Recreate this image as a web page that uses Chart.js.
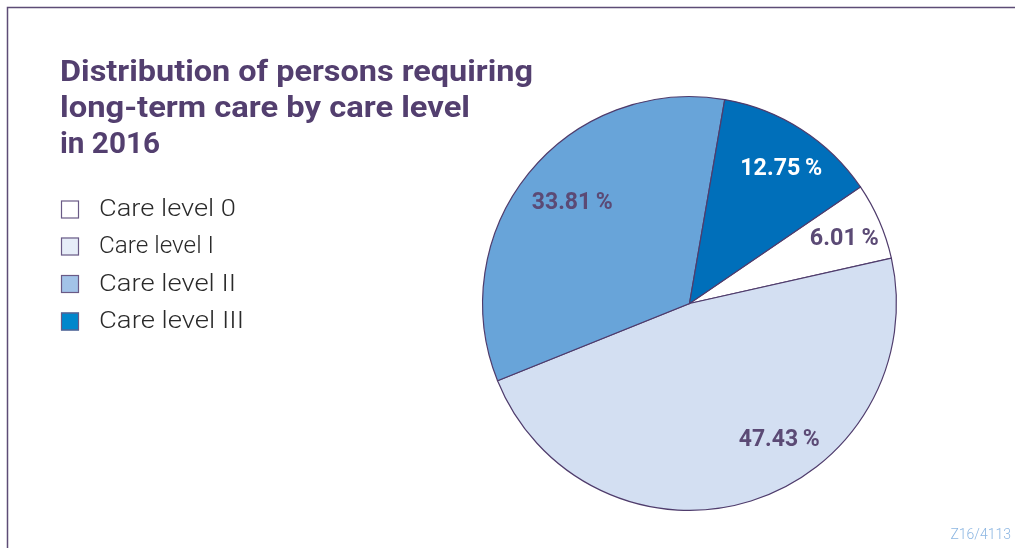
<!DOCTYPE html>
<html>
<head>
<meta charset="utf-8">
<script src="https://cdn.jsdelivr.net/npm/chart.js@4/dist/chart.umd.min.js"></script>
<style>
  html, body { margin: 0; padding: 0; background: #ffffff; }
  #wrap { position: relative; width: 1015px; height: 548px; }
</style>
</head>
<body>
<div id="wrap"><canvas id="chart" width="1015" height="548"></canvas></div>
<script>
// Care levels and their shares (percent) in 2016
const categories = ['Care level 0', 'Care level I', 'Care level II', 'Care level III'];
const shares = [6.01, 47.43, 33.81, 12.75];
const titleLines = ['Distribution of persons requiring', 'long-term care by care level', 'in 2016'];
const sourceNote = 'Z16/4113';

const sliceColors = ['#ffffff', '#d3dff2', '#68a4d9', '#006fba'];
const legendColors = ['#ffffff', '#e6edf8', '#a2c3e8', '#0187cc'];
const labelColors = ['#5b4a75', '#5b4a75', '#5b4a75', '#ffffff'];
// label placement inside each slice: angle (deg from 12 o'clock, clockwise) and radius fraction
const labelPlace = [[67.5, 0.81], [146.7, 0.79], [310.5, 0.745], [34.4, 0.785]];

const purple = '#533f6f';

// draws text squeezed horizontally to a given width, starting at x
function fitText(ctx, text, x, y, targetWidth) {
  const w = ctx.measureText(text).width;
  ctx.save();
  ctx.translate(x, y);
  ctx.scale(targetWidth / w, 1);
  ctx.fillText(text, 0, 0);
  ctx.restore();
}

const decorations = {
  id: 'decorations',
  beforeDraw(chart) {
    const ctx = chart.ctx;
    ctx.save();
    // frame (top and left rules)
    ctx.strokeStyle = '#5d4c76';
    ctx.lineWidth = 1.5;
    ctx.beginPath();
    ctx.moveTo(1015, 7.5);
    ctx.lineTo(7.5, 7.5);
    ctx.lineTo(7.5, 548);
    ctx.stroke();

    // title
    ctx.fillStyle = purple;
    ctx.textBaseline = 'alphabetic';
    ctx.textAlign = 'left';
    ctx.font = 'bold 30px Roboto';
    const titleWidths = [473, 410, 100];
    titleLines.forEach((t, i) => fitText(ctx, t, 60, 81 + i * 36, titleWidths[i]));

    // legend
    const rowY = [209.5, 246.5, 284, 321.5];
    ctx.font = '300 23px Roboto';
    const legendWidths = [137, 115, 137, 145];
    categories.forEach((c, i) => {
      ctx.fillStyle = legendColors[i];
      ctx.fillRect(61, rowY[i] - 9, 18, 18);
      ctx.strokeStyle = '#6a5a86';
      ctx.lineWidth = 1.2;
      ctx.strokeRect(61.5, rowY[i] - 8.5, 17, 17);
      ctx.fillStyle = '#2a2a2a';
      ctx.textBaseline = 'middle';
      fitText(ctx, c, 99, rowY[i] + 1, legendWidths[i]);
    });

    // source note
    ctx.fillStyle = '#8cb6e2';
    ctx.font = '300 14px Roboto';
    ctx.textAlign = 'right';
    ctx.textBaseline = 'middle';
    ctx.fillText(sourceNote, 1011, 535);
    ctx.restore();
  },
  afterDatasetsDraw(chart) {
    const ctx = chart.ctx;
    const meta = chart.getDatasetMeta(0);
    const labelWidths = [69, 81, 81, 82];
    ctx.save();
    ctx.font = 'bold 24px Roboto';
    ctx.textAlign = 'left';
    ctx.textBaseline = 'middle';
    meta.data.forEach((arc, i) => {
      const a = labelPlace[i][0] * Math.PI / 180;
      const r = arc.outerRadius * labelPlace[i][1];
      const x = arc.x + Math.sin(a) * r;
      const y = arc.y - Math.cos(a) * r;
      ctx.fillStyle = labelColors[i];
      fitText(ctx, shares[i].toFixed(2) + '\u2009%', x - labelWidths[i] / 2, y, labelWidths[i]);
    });
    ctx.restore();
  }
};

new Chart(document.getElementById('chart'), {
  type: 'pie',
  data: {
    labels: categories,
    datasets: [{
      data: shares,
      backgroundColor: sliceColors,
      borderColor: '#4f3c6c',
      borderWidth: 1.2,
      borderJoinStyle: 'miter'
    }]
  },
  options: {
    responsive: false,
    animation: false,
    rotation: 55.7,
    layout: { padding: { left: 482, right: 118, top: 96, bottom: 37 } },
    plugins: {
      legend: { display: false },
      tooltip: { enabled: false },
      title: { display: false }
    }
  },
  plugins: [decorations]
});
</script>
</body>
</html>
